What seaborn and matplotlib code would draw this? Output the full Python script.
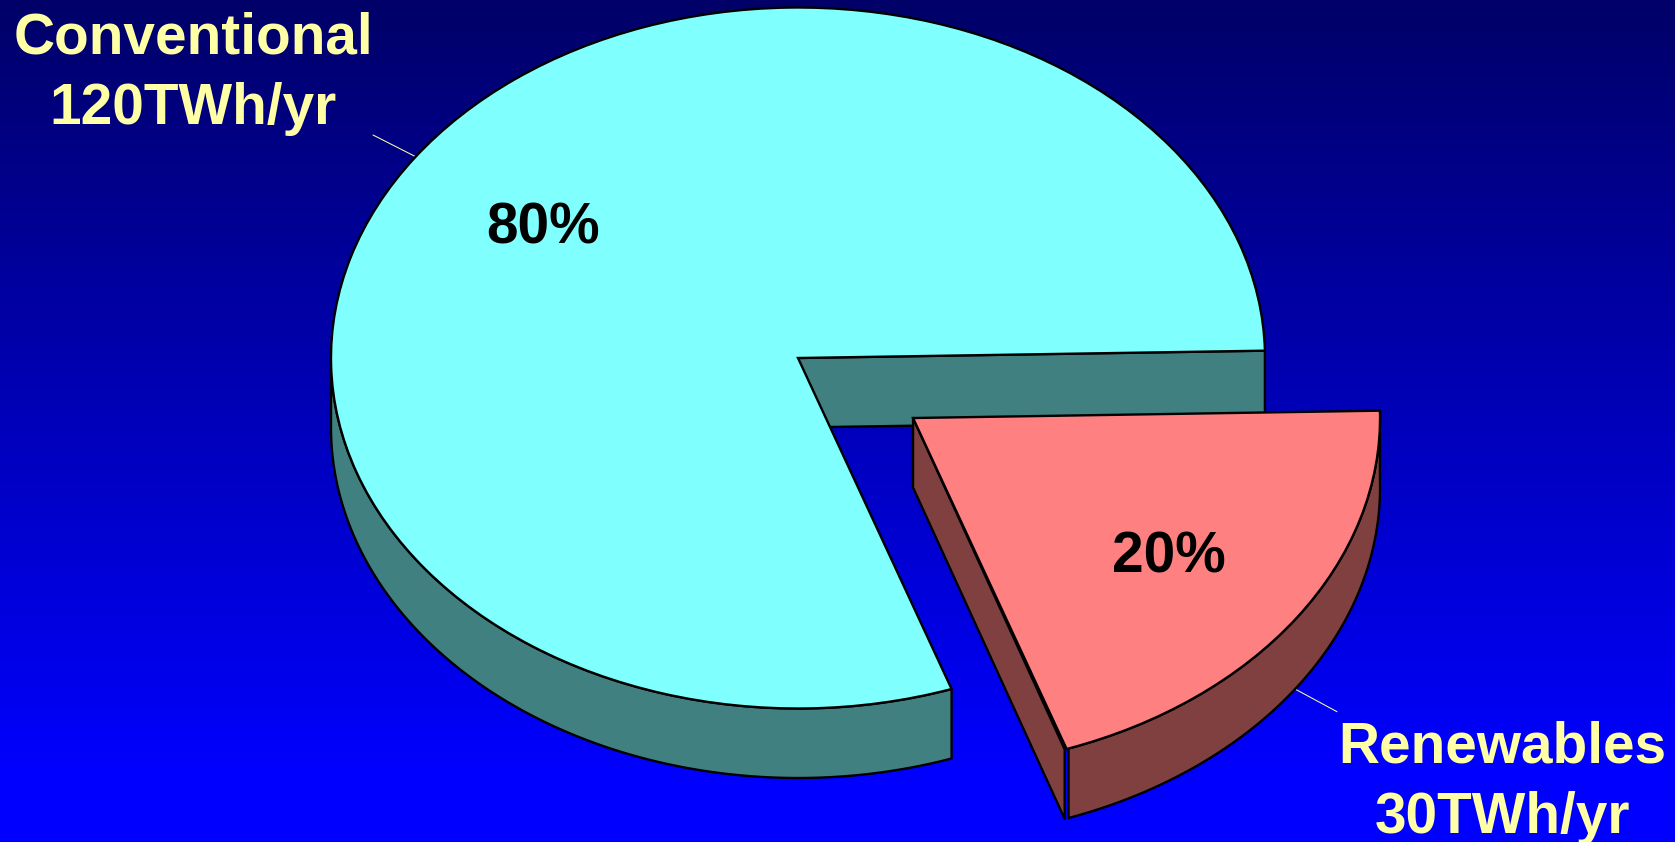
import numpy as np
import matplotlib
matplotlib.use("Agg")
import matplotlib.pyplot as plt
import seaborn as sns

categories = ["Conventional", "Renewables"]
twh_per_year = [120, 30]
label_lines = ["Conventional\n120TWh/yr", "Renewables\n30TWh/yr"]
top_colors = ["#80FFFF", "#FF8080"]
side_colors = ["#408080", "#804040"]
explode = [0.0, 0.3]
text_color = "#FFFFA6"

W, H = 1675, 842
CX, CY, RX, RY = 798.0, 358.0, 467.0, 350.5
DEPTH = 69.5 / RY
LW = 1.7
GAP_DEG = 0.25

sns.set_theme(style="white")
plt.rcParams["font.family"] = ["Liberation Sans", "DejaVu Sans"]

fig = plt.figure(figsize=(W / 100, H / 100), dpi=100)
bg = fig.add_axes([0, 0, 1, 1], zorder=0)
blue = np.clip(np.linspace(104, 268, 256), 0, 255)
grad = np.zeros((256, 1, 3))
grad[:, 0, 2] = blue / 255
bg.imshow(grad, aspect="auto", interpolation="bilinear")
bg.axis("off")

ax = fig.add_axes([0, 0, 1, 1], zorder=1)
ax.patch.set_alpha(0)


def px(x, y):
    return (x - CX) / RX, (CY - y) / RY


wedges, _ = ax.pie(
    twh_per_year,
    explode=explode,
    colors=top_colors,
    startangle=1.2,
    radius=1.0,
    wedgeprops=dict(edgecolor="black", linewidth=LW, zorder=5),
)
ax.set_aspect("auto")
ax.set_xlim(-CX / RX, (W - CX) / RX)
ax.set_ylim((CY - H) / RY, CY / RY)
ax.set_axis_off()


def pt(w, deg, drop=0.0):
    a = np.radians(deg)
    return w.center[0] + w.r * np.cos(a), w.center[1] + w.r * np.sin(a) - drop


def radial_face(w, deg, color, z):
    x0, y0 = w.center
    x1, y1 = pt(w, deg)
    ax.fill([x0, x1, x1, x0], [y0, y1, y1 - DEPTH, y0 - DEPTH],
            facecolor=color, edgecolor="black", linewidth=LW, zorder=z, joinstyle="round")


def outer_face(w, a0, a1, color, z):
    t = np.linspace(np.radians(a0), np.radians(a1), 200)
    x = w.center[0] + w.r * np.cos(t)
    y = w.center[1] + w.r * np.sin(t)
    ax.fill(np.r_[x, x[::-1]], np.r_[y, y[::-1] - DEPTH],
            facecolor=color, edgecolor="black", linewidth=LW, zorder=z, joinstyle="round")


main, extra = wedges
radial_face(main, main.theta1, side_colors[0], 2)
outer_face(main, 180, main.theta2, side_colors[0], 2)
main.set_zorder(3)
radial_face(extra, extra.theta1 - GAP_DEG, side_colors[1], 4)
outer_face(extra, extra.theta1 + GAP_DEG, extra.theta2, side_colors[1], 4)
extra.set_zorder(5)

total = sum(twh_per_year)
pct_pos = [(543, 229), (1169, 557.5)]
for v, (x, y) in zip(twh_per_year, pct_pos):
    ax.text(*px(x, y), f"{v / total:.0%}", color="black", fontsize=40.9,
            fontweight="bold", ha="center", va="center", zorder=6)

label_pos = [(193, 73.5), (1502, 782.5)]
for s, (x, y) in zip(label_lines, label_pos):
    ax.text(*px(x, y), s, color=text_color, fontsize=40.9, fontweight="bold",
            ha="center", va="center", linespacing=1.385, zorder=6)

leaders = [((373, 135), (415.7, 156.7)), ((1295, 689), (1337, 711.7))]
for a, b in leaders:
    p, q = px(*a), px(*b)
    ax.plot([p[0], q[0]], [p[1], q[1]], color=text_color, lw=0.75, zorder=1)

fig.savefig("out.png", dpi=100)
